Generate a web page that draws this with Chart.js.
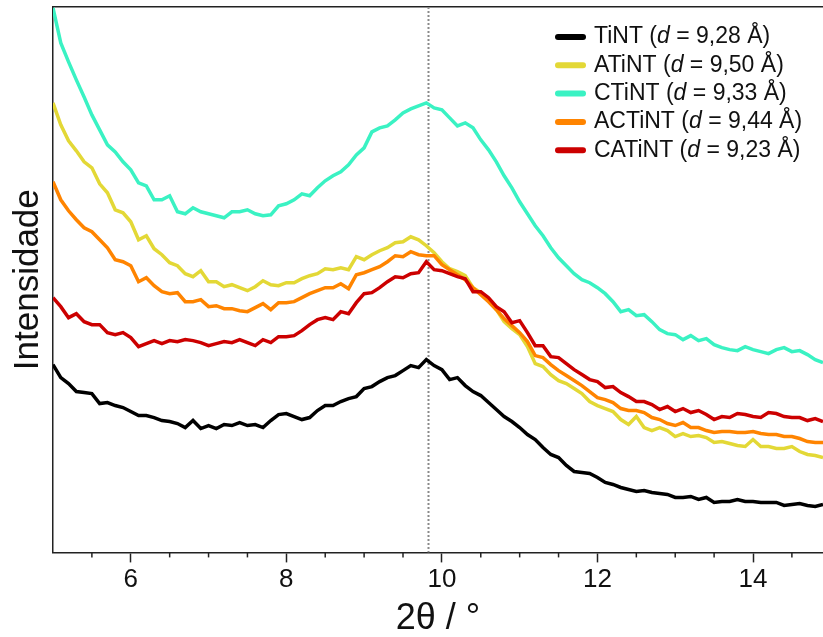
<!DOCTYPE html>
<html>
<head>
<meta charset="utf-8">
<script src="https://cdn.jsdelivr.net/npm/chart.js@4.4.1/dist/chart.umd.min.js"></script>
<style>
  html, body { margin: 0; padding: 0; background: #fff; }
  #wrap { width: 823px; height: 637px; }
</style>
</head>
<body>
<div id="wrap"><canvas id="xrdChart"></canvas></div>
<script>
// 2θ grid (degrees) shared by all patterns
const twoTheta = [
  5.0, 5.1, 5.2, 5.3, 5.4, 5.5, 5.6, 5.7, 5.8, 5.9,
  6.0, 6.1, 6.2, 6.3, 6.4, 6.5, 6.6, 6.7, 6.8, 6.9,
  7.0, 7.1, 7.2, 7.3, 7.4, 7.5, 7.6, 7.7, 7.8, 7.9,
  8.0, 8.1, 8.2, 8.3, 8.4, 8.5, 8.6, 8.7, 8.8, 8.9,
  9.0, 9.1, 9.2, 9.3, 9.4, 9.5, 9.6, 9.7, 9.8, 9.9,
  10.0, 10.1, 10.2, 10.3, 10.4, 10.5, 10.6, 10.7, 10.8, 10.9,
  11.0, 11.1, 11.2, 11.3, 11.4, 11.5, 11.6, 11.7, 11.8, 11.9,
  12.0, 12.1, 12.2, 12.3, 12.4, 12.5, 12.6, 12.7, 12.8, 12.9,
  13.0, 13.1, 13.2, 13.3, 13.4, 13.5, 13.6, 13.7, 13.8, 13.9,
  14.0, 14.1, 14.2, 14.3, 14.4, 14.5, 14.6, 14.7, 14.8, 14.9
];

// intensities (a.u., patterns offset vertically)
const tint = [
  188, 175, 169, 161, 160, 159, 149, 150, 147, 145,
  141, 137, 137, 135, 132, 131, 129, 125, 132, 124,
  127, 124, 128, 127, 130, 127, 128, 125, 132, 138,
  139, 136, 133, 135, 142, 147, 147, 151, 154, 156,
  164, 166, 171, 175, 177, 182, 187, 185, 193, 187,
  183, 173, 175, 167, 161, 157, 150, 143, 136, 131,
  125, 118, 113, 105, 98, 95, 87, 81, 80, 79,
  75, 70, 68, 65, 63, 61, 62, 60, 59, 58,
  55, 55, 56, 53, 55, 50, 51, 51, 53, 51,
  51, 50, 50, 50, 47, 48, 49, 47, 46, 48
];
const atint = [
  450, 428, 412, 402, 391, 385, 369, 360, 343, 340,
  331, 313, 317, 304, 298, 290, 287, 279, 276, 282,
  271, 271, 266, 268, 265, 262, 266, 272, 268, 267,
  270, 270, 274, 277, 279, 284, 283, 285, 283, 296,
  293, 298, 302, 305, 310, 311, 316, 313, 307, 300,
  291, 284, 281, 277, 265, 260, 254, 243, 231, 224,
  218, 206, 189, 186, 178, 172, 169, 164, 159, 151,
  147, 144, 141, 133, 128, 136, 125, 122, 125, 122,
  116, 119, 116, 117, 115, 110, 111, 109, 107, 106,
  113, 106, 106, 104, 104, 106, 101, 98, 97, 95
];
const ctint = [
  545, 510, 491, 473, 456, 438, 423, 408, 401, 391,
  383, 370, 367, 353, 353, 357, 341, 339, 345, 341,
  339, 337, 335, 341, 341, 343, 339, 337, 338, 347,
  349, 353, 359, 357, 365, 372, 377, 381, 388, 398,
  405, 421, 425, 427, 433, 440, 444, 447, 450, 445,
  443, 435, 427, 430, 425, 413, 403, 391, 377, 365,
  351, 339, 327, 317, 305, 295, 287, 279, 273, 270,
  265, 259, 251, 241, 243, 237, 238, 231, 223, 219,
  218, 213, 217, 212, 214, 208, 205, 203, 202, 206,
  203, 201, 199, 203, 205, 201, 202, 198, 193, 190
];
const actint = [
  371, 353, 342, 333, 325, 321, 313, 305, 293, 291,
  287, 271, 275, 267, 261, 259, 260, 251, 251, 253,
  246, 247, 244, 244, 242, 241, 245, 249, 243, 250,
  250, 251, 255, 259, 262, 265, 265, 269, 264, 278,
  280, 283, 286, 291, 297, 296, 301, 298, 297, 297,
  288, 283, 278, 273, 265, 258, 251, 243, 234, 227,
  220, 211, 197, 195, 188, 182, 177, 172, 167, 161,
  155, 153, 150, 144, 142, 142, 140, 135, 133, 129,
  127, 130, 125, 125, 122, 120, 121, 121, 120, 120,
  121, 119, 118, 118, 116, 116, 114, 111, 110, 110
];
const catint = [
  255, 246, 235, 239, 231, 228, 228, 220, 218, 220,
  215, 206, 209, 212, 209, 212, 211, 213, 212, 210,
  207, 209, 211, 210, 213, 210, 207, 213, 210, 216,
  216, 217, 222, 228, 233, 235, 233, 241, 239, 250,
  259, 260, 265, 271, 276, 275, 279, 280, 291, 283,
  282, 279, 276, 274, 261, 261, 255, 246, 241, 230,
  232, 220, 207, 207, 196, 195, 189, 183, 178, 173,
  171, 165, 166, 160, 156, 151, 151, 148, 143, 146,
  141, 144, 140, 142, 138, 133, 136, 135, 139, 138,
  136, 135, 140, 139, 136, 135, 135, 132, 134, 131
];

const seriesNames = ['TiNT', 'ATiNT', 'CTiNT', 'ACTiNT', 'CATiNT'];
const dSpacings = ['9,28', '9,50', '9,33', '9,44', '9,23'];
const seriesColors = ['#000000', '#E3D836', '#3AF2C3', '#FF8400', '#CC0000'];
const seriesData = [tint, atint, ctint, actint, catint];

const majorTicks = [6, 8, 10, 12, 14];
const peakPosition = 9.82; // 2θ of the basal reflection
const axisColor = '#222';
const fontFamily = '"Liberation Sans", Arial, sans-serif';

// dotted reference line under the curves
const peakLinePlugin = {
  id: 'peakLine',
  beforeDatasetsDraw(chart) {
    const { ctx, chartArea, scales } = chart;
    const px = Math.round(scales.x.getPixelForValue(peakPosition)) + 0.5;
    ctx.save();
    ctx.strokeStyle = '#8a8a8a';
    ctx.lineWidth = 2;
    ctx.setLineDash([2, 2]);
    ctx.beginPath();
    ctx.moveTo(px, chartArea.top);
    ctx.lineTo(px, chartArea.bottom);
    ctx.stroke();
    ctx.restore();
  }
};

// short ticks every 0.5° between the labelled ones
const minorTickPlugin = {
  id: 'minorTicks',
  afterDraw(chart) {
    const { ctx, chartArea, scales } = chart;
    ctx.save();
    ctx.strokeStyle = axisColor;
    ctx.lineWidth = 1.5;
    for (let v = 5.5; v < scales.x.max; v += 0.5) {
      if (majorTicks.includes(v)) continue;
      const px = scales.x.getPixelForValue(v);
      ctx.beginPath();
      ctx.moveTo(px, chartArea.bottom);
      ctx.lineTo(px, chartArea.bottom + 5);
      ctx.stroke();
    }
    ctx.restore();
  }
};

// legend with an italic "d" inside each entry
const legendPlugin = {
  id: 'sampleLegend',
  afterDraw(chart) {
    const { ctx, chartArea } = chart;
    const x0 = chartArea.right - 265;
    ctx.save();
    ctx.textBaseline = 'middle';
    seriesNames.forEach((name, i) => {
      const y = 37 + i * 28.3;
      ctx.strokeStyle = seriesColors[i];
      ctx.lineWidth = 6;
      ctx.lineCap = 'round';
      ctx.beginPath();
      ctx.moveTo(x0, y);
      ctx.lineTo(x0 + 25, y);
      ctx.stroke();

      let x = x0 + 36;
      ctx.fillStyle = '#111';
      ctx.font = '23px ' + fontFamily;
      const head = name + ' (';
      ctx.fillText(head, x, y);
      x += ctx.measureText(head).width;
      ctx.font = 'italic 23px ' + fontFamily;
      ctx.fillText('d', x, y);
      x += ctx.measureText('d').width;
      ctx.font = '23px ' + fontFamily;
      ctx.fillText(' = ' + dSpacings[i] + ' Å)', x, y);
    });
    ctx.restore();
  }
};

const datasets = seriesNames.map((name, i) => ({
  label: name,
  data: seriesData[i].map((v, j) => ({ x: twoTheta[j], y: v })),
  borderColor: seriesColors[i],
  borderWidth: 3.5,
  pointRadius: 0,
  tension: 0,
  fill: false,
  order: seriesNames.length - i
}));

new Chart(document.getElementById('xrdChart'), {
  type: 'line',
  data: { datasets },
  options: {
    responsive: true,
    maintainAspectRatio: false,
    animation: false,
    layout: { padding: { left: 3, top: 7, right: 0, bottom: 0 } },
    plugins: { legend: { display: false }, tooltip: { enabled: false } },
    scales: {
      x: {
        type: 'linear',
        min: 5,
        max: 14.9,
        afterBuildTicks: scale => { scale.ticks = majorTicks.map(v => ({ value: v })); },
        ticks: {
          color: '#111',
          padding: 3,
          font: { family: fontFamily, size: 26, lineHeight: 1.1 }
        },
        grid: { display: true, drawOnChartArea: false, drawTicks: true, tickLength: 10, tickWidth: 1.5, tickColor: axisColor },
        border: { display: true, color: axisColor, width: 1.5 },
        title: {
          display: true,
          text: '2θ / °',
          color: '#111',
          padding: { top: 4, bottom: 0 },
          font: { family: fontFamily, size: 36, lineHeight: 1.0 }
        }
      },
      xTop: {
        type: 'linear',
        position: 'top',
        ticks: { display: false },
        grid: { display: false, drawTicks: false },
        border: { display: true, color: axisColor, width: 1.5 }
      },
      y: {
        min: 0,
        max: 546,
        ticks: { display: false },
        grid: { display: false, drawTicks: false },
        border: { display: true, color: axisColor, width: 1.5 },
        title: {
          display: true,
          text: 'Intensidade',
          color: '#111',
          padding: { top: 4, bottom: 4 },
          font: { family: fontFamily, size: 35 }
        }
      }
    }
  },
  plugins: [peakLinePlugin, minorTickPlugin, legendPlugin]
});
</script>
</body>
</html>
